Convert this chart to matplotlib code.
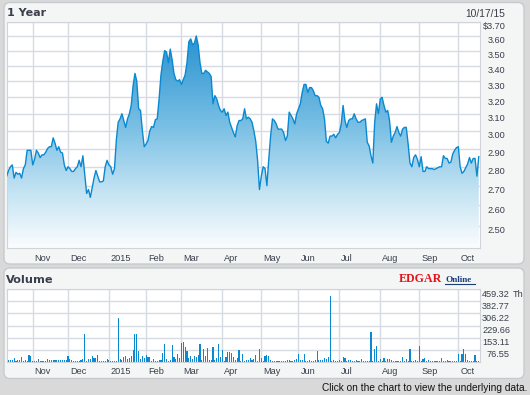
import matplotlib
matplotlib.use('Agg')
import matplotlib.pyplot as plt
import matplotlib.transforms as mtransforms
from matplotlib.patches import FancyBboxPatch
from matplotlib.lines import Line2D
from matplotlib.colors import LinearSegmentedColormap
from matplotlib.ticker import NullLocator
import numpy as np
import pandas as pd

W, H = 530, 395

# trading days shown (NYSE holidays removed)
holidays = ['2014-11-27', '2014-12-25', '2015-01-01', '2015-01-19', '2015-02-16',
            '2015-04-03', '2015-05-25', '2015-07-03', '2015-09-07']
dates = pd.bdate_range('2014-10-14', '2015-10-16', freq='C', holidays=holidays)

# closing prices, by month
p_oct14 = [2.75, 2.78, 2.80, 2.81, 2.74, 2.77, 2.76, 2.765, 2.74, 2.79, 2.81, 2.89, 2.89, 2.89]
p_nov14 = [2.81, 2.84, 2.89, 2.875, 2.85, 2.865, 2.865, 2.88, 2.90, 2.91, 2.91, 2.96, 2.93, 2.89,
           2.91, 2.88, 2.875, 2.81, 2.78]
p_dec14 = [2.80, 2.79, 2.775, 2.775, 2.79, 2.80, 2.835, 2.80, 2.86, 2.76, 2.66, 2.68, 2.64, 2.69,
           2.74, 2.78, 2.75, 2.72, 2.72, 2.725, 2.80, 2.835]
p_jan15 = [2.81, 2.80, 2.76, 2.79, 2.95, 3.05, 3.07, 3.10, 3.06, 3.02, 3.07, 3.10, 3.15, 3.27,
           3.35, 3.30, 3.13, 3.12, 3.00, 2.91]
p_feb15 = [2.925, 2.945, 3.00, 3.025, 3.02, 3.065, 3.07, 3.19, 3.34, 3.43, 3.50, 3.49, 3.42, 3.51,
           3.44, 3.35, 3.31, 3.30, 3.31]
p_mar15 = [3.28, 3.31, 3.34, 3.42, 3.56, 3.58, 3.54, 3.55, 3.60, 3.54, 3.42, 3.35, 3.35, 3.37,
           3.36, 3.35, 3.33, 3.16, 3.21, 3.19, 3.15, 3.12]
p_apr15 = [3.11, 3.13, 3.09, 3.11, 3.05, 3.02, 2.99, 2.965, 3.03, 3.06, 3.06, 3.07, 3.13, 3.07,
           3.08, 3.07, 3.05, 3.00, 2.94, 2.835, 2.68]
p_may15 = [2.75, 2.80, 2.79, 2.70, 2.84, 2.97, 3.07, 3.06, 3.04, 3.01, 3.01, 3.01, 2.99, 2.945,
           2.97, 3.11, 3.09, 3.07, 3.04, 3.10]
p_jun15 = [3.13, 3.16, 3.23, 3.28, 3.28, 3.23, 3.26, 3.26, 3.24, 3.21, 3.21, 3.20, 3.15, 3.13,
           3.07, 2.94, 2.93, 2.97, 2.97, 2.98, 2.96, 2.98]
p_jul15 = [2.99, 3.04, 3.15, 3.06, 3.02, 3.06, 3.07, 3.07, 3.10, 3.07, 3.05, 3.05, 3.06, 3.065,
           3.07, 2.935, 2.915, 2.86, 2.82, 3.05, 3.16, 3.10]
p_aug15 = [3.19, 3.20, 3.15, 3.11, 3.12, 3.06, 2.935, 2.97, 2.99, 3.025, 2.99, 2.97, 3.01, 3.02,
           3.02, 2.925, 2.82, 2.80, 2.85, 2.865, 2.84]
p_sep15 = [2.80, 2.855, 2.775, 2.775, 2.80, 2.79, 2.79, 2.79, 2.785, 2.79, 2.795, 2.80, 2.80, 2.86,
           2.845, 2.845, 2.82, 2.825, 2.87, 2.89, 2.905]
p_oct15 = [2.91, 2.80, 2.765, 2.775, 2.795, 2.815, 2.85, 2.82, 2.845, 2.845, 2.75, 2.855]

# volume (thousands), by month
v_oct14 = [10, 10, 10, 10, 23, 6, 10, 10, 30, 6, 12, 6, 42, 36]
v_nov14 = [6, 6, 6, 17, 6, 6, 6, 6, 17, 12, 12, 12, 8, 12, 12, 12, 12, 8, 8]
v_dec14 = [36, 17, 8, 6, 6, 6, 6, 12, 17, 176, 6, 17, 17, 36, 23, 23, 42, 6, 6, 6, 6, 17]
v_jan15 = [12, 6, 6, 6, 6, 277, 17, 12, 32, 36, 17, 25, 36, 74, 176, 176, 68, 17, 36, 21]
v_feb15 = [42, 32, 32, 6, 17, 6, 6, 8, 8, 55, 112, 17, 6, 12, 106, 30, 17, 49, 23]
v_mar15 = [118, 127, 95, 68, 23, 36, 17, 36, 32, 44, 112, 12, 80, 36, 87, 12, 12, 93, 12, 23, 112, 30]
v_apr15 = [74, 6, 30, 61, 61, 55, 30, 12, 23, 74, 6, 49, 6, 10, 10, 23, 10, 17, 42, 6, 80]
v_may15 = [23, 6, 36, 42, 36, 8, 6, 6, 6, 6, 6, 6, 6, 6, 10, 10, 6, 6, 10, 17]
v_jun15 = [49, 10, 10, 49, 6, 6, 10, 6, 6, 10, 68, 10, 10, 10, 23, 17, 30, 417, 6, 10, 6, 6]
v_jul15 = [10, 6, 30, 23, 6, 10, 10, 6, 6, 10, 6, 6, 17, 6, 6, 6, 6, 188, 6, 80, 100, 6]
v_aug15 = [17, 6, 23, 6, 17, 17, 10, 6, 6, 6, 6, 6, 30, 6, 17, 6, 80, 6, 6, 8, 6]
v_sep15 = [99, 6, 17, 23, 6, 10, 6, 6, 6, 6, 6, 6, 23, 6, 6, 10, 6, 6, 6, 6, 6]
v_oct15 = [49, 6, 49, 80, 49, 10, 6, 6, 6, 42, 6, 6]

price_ticks = [2.5, 2.6, 2.7, 2.8, 2.9, 3.0, 3.1, 3.2, 3.3, 3.4, 3.5, 3.6, 3.7]
price_labels = ['2.50', '2.60', '2.70', '2.80', '2.90', '3.00', '3.10', '3.20', '3.30',
                '3.40', '3.50', '3.60', '$3.70']
vol_ticks = [76.55, 153.11, 229.66, 306.22, 382.77, 459.32]
vol_labels = ['76.55', '153.11', '229.66', '306.22', '382.77', '459.32']

prices = np.array(p_oct14 + p_nov14 + p_dec14 + p_jan15 + p_feb15 + p_mar15 + p_apr15
                  + p_may15 + p_jun15 + p_jul15 + p_aug15 + p_sep15 + p_oct15)
volumes = np.array(v_oct14 + v_nov14 + v_dec14 + v_jan15 + v_feb15 + v_mar15 + v_apr15
                   + v_may15 + v_jun15 + v_jul15 + v_aug15 + v_sep15 + v_oct15)
n = min(len(dates), len(prices), len(volumes))
dates = dates[:n]
prices = prices[:n]
volumes = volumes[:n]
x = np.arange(n)

month_pos = [i for i in range(1, n) if dates[i].month != dates[i - 1].month]
month_lab = ['2015' if dates[i].month == 1 else dates[i].strftime('%b') for i in month_pos]

BLUE = '#0a89d0'
GRID = '#d7dbe3'
TXT = '#3a3f4b'
LBL = 'Liberation Sans'


def box(x0, y0, x1, y1):
    return [x0 / W, 1 - y1 / H, (x1 - x0) / W, (y1 - y0) / H]


fig = plt.figure(figsize=(W / 100, H / 100), dpi=100)
fig.patch.set_facecolor('#d9d9d9')

# panels (pixel coords, top-down), kept behind the axes
for (x0, y0, x1, y1) in [(4, 2.5, 524, 264), (4, 268, 524, 378.5)]:
    p = FancyBboxPatch((x0, H - y1), x1 - x0, y1 - y0, boxstyle='round,pad=0,rounding_size=6',
                       transform=mtransforms.IdentityTransform(), facecolor='#f3f6f5',
                       edgecolor='#c6cbcf', linewidth=1.0, zorder=-5)
    fig.patches.append(p)

# ---- price ----
ax = fig.add_axes(box(6.7, 21.7, 479.5, 248.3))
cmap = LinearSegmentedColormap.from_list('g', [(0, '#1c8bcd'), (0.45, '#76bee4'),
                                                (0.75, '#c3e3f3'), (1, '#fbfdfe')])
grad = np.linspace(0, 1, 256).reshape(-1, 1)
im = ax.imshow(grad, cmap=cmap, extent=[0, 1, 0, 1], transform=ax.transAxes,
               aspect='auto', origin='upper', zorder=1)
ax.set_yscale('log')
poly = ax.fill_between(x, prices, 2.0, facecolor='none', edgecolor='none')
im.set_clip_path(poly.get_paths()[0], transform=ax.transData)
ax.plot(x, prices, color=BLUE, lw=1.0, zorder=3)
ax.set_xlim(0, n - 1 + 0.4)
ax.set_ylim(2.394, 3.70)
ax.set_yticks(price_ticks)
ax.yaxis.set_minor_locator(NullLocator())
ax.set_xticks(month_pos)
ax.set_axisbelow(True)
ax.grid(color=GRID, lw=1.0)
ax.tick_params(length=0, labelleft=False, labelbottom=False)
ax.set_facecolor('white')
for s in ax.spines.values():
    s.set_color('#cfd4da')

tr = mtransforms.blended_transform_factory(ax.transAxes, ax.transData)
tr = mtransforms.offset_copy(tr, fig=fig, x=26, y=-5, units='dots')
for v, lab in zip(price_ticks, price_labels):
    ax.text(1, v, lab, transform=tr, ha='right', va='center', fontsize=6.6,
            family=LBL, color=TXT, clip_on=False)

trm = mtransforms.blended_transform_factory(ax.transData, ax.transAxes)
trm = mtransforms.offset_copy(trm, fig=fig, x=2, y=-10, units='dots')
for i, lab in zip(month_pos, month_lab):
    ax.text(i, 0, lab, transform=trm, ha='left', va='center', fontsize=6.6,
            family=LBL, color=TXT, clip_on=False)

# ---- volume ----
axv = fig.add_axes(box(6.7, 289.3, 479.5, 361.7))
axv.bar(x, volumes, width=0.6, color=BLUE, linewidth=0, zorder=2)
axv.set_xlim(0, n - 1 + 0.4)
axv.set_ylim(0, 459.32)
axv.set_yticks([0] + vol_ticks)
axv.set_xticks(month_pos)
axv.set_axisbelow(True)
axv.grid(color=GRID, lw=1.0)
axv.tick_params(length=0, labelleft=False, labelbottom=False)
axv.set_facecolor('white')
for s in axv.spines.values():
    s.set_color('#cfd4da')

trv = mtransforms.blended_transform_factory(axv.transAxes, axv.transData)
trv_r = mtransforms.offset_copy(trv, fig=fig, x=30.5, y=-5, units='dots')
for v, lab in zip(vol_ticks, vol_labels):
    axv.text(1, v, lab, transform=trv_r, ha='right', va='center', fontsize=6.6,
             family=LBL, color=TXT, clip_on=False)
trv_th = mtransforms.offset_copy(trv, fig=fig, x=33.5, y=-5, units='dots')
axv.text(1, vol_ticks[-1], 'Th', transform=trv_th, ha='left', va='center', fontsize=6.6,
         family=LBL, color=TXT, clip_on=False)

trvm = mtransforms.blended_transform_factory(axv.transData, axv.transAxes)
trvm = mtransforms.offset_copy(trvm, fig=fig, x=2, y=-10, units='dots')
for i, lab in zip(month_pos, month_lab):
    axv.text(i, 0, lab, transform=trvm, ha='left', va='center', fontsize=6.6,
             family=LBL, color=TXT, clip_on=False)

# ---- headers and footer ----
fig.text(7 / W, 1 - 12.5 / H, '1 Year', fontsize=8, weight='bold', family='DejaVu Sans',
         color=TXT, va='center', ha='left')
fig.text(505.5 / W, 1 - 14 / H, '10/17/15', fontsize=7.4, family=LBL, color=TXT,
         va='center', ha='right')
fig.text(6 / W, 1 - 280 / H, 'Volume', fontsize=8.2, weight='bold', family='DejaVu Sans',
         color=TXT, va='center', ha='left')
fig.text(399 / W, 1 - 278.5 / H, 'EDGAR', fontsize=8.6, weight='bold', family='Liberation Serif',
         color='#e3131b', va='center', ha='left')
fig.text(445 / W, 1 - 280.5 / H, 'Online', fontsize=6.6, weight='bold', family='Liberation Serif',
         color='#1c3d7a', va='center', ha='left')
fig.lines.append(Line2D([445 / W, 475 / W], [1 - 284 / H, 1 - 284 / H], color='#1c3d7a',
                        lw=0.8, transform=fig.transFigure))
fig.text(527 / W, 1 - 388 / H, 'Click on the chart to view the underlying data.', fontsize=7.3,
         family=LBL, color='#111111', va='center', ha='right')

fig.savefig('out.png', dpi=100, facecolor=fig.get_facecolor())
